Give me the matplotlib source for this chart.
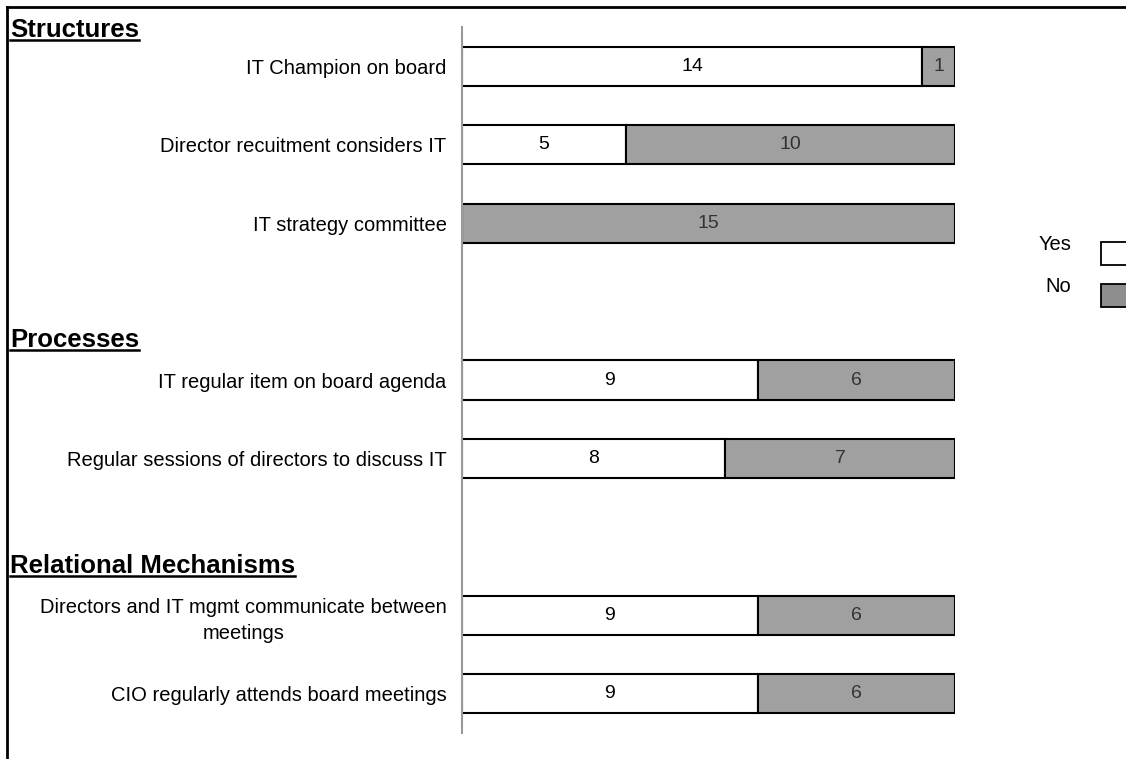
import matplotlib
matplotlib.use("Agg")
import matplotlib.pyplot as plt
from matplotlib.lines import Line2D
from matplotlib.patches import Rectangle

# ---- data ----
sections = ["Structures", "Processes", "Relational Mechanisms"]
categories = [
    "IT Champion on board",
    "Director recuitment considers IT",
    "IT strategy committee",
    "IT regular item on board agenda",
    "Regular sessions of directors to discuss IT",
    "Directors and IT mgmt communicate between\nmeetings",
    "CIO regularly attends board meetings",
]
category_section = [0, 0, 0, 1, 1, 2, 2]
yes_counts = [14, 5, 0, 9, 8, 9, 9]
no_counts = [1, 10, 15, 6, 7, 6, 6]
legend_labels = ["Yes", "No"]

# ---- style ----
W, H = 1126, 759
FONT = "Liberation Sans"
YES_COLOR = "white"
NO_COLOR = "#a0a0a0"
NO_LEG_COLOR = "#8e8e8e"

fig = plt.figure(figsize=(W / 100, H / 100), dpi=100)
fig.patch.set_facecolor("white")

def fx(px):
    return px / W

def fy(py):
    return 1 - py / H

ax = fig.add_axes([fx(462), fy(733), fx(955) - fx(462), fy(27) - fy(733)])

# row positions: one empty slot between sections
ypos = [i + s for i, s in enumerate(category_section)]
n_slots = max(ypos) + 1

ax.barh(ypos, yes_counts, height=0.5, color=YES_COLOR, edgecolor="black", linewidth=1.5)
ax.barh(ypos, no_counts, left=yes_counts, height=0.5, color=NO_COLOR, edgecolor="black", linewidth=1.5)

for y, a, b in zip(ypos, yes_counts, no_counts):
    if a > 0:
        ax.text(a / 2, y, str(a), ha="center", va="center", fontsize=14, family=FONT, color="black")
    if b > 0:
        ax.text(a + b / 2, y, str(b), ha="center", va="center", fontsize=14, family=FONT, color="#333333")

ax.set_xlim(0, 15)
ax.set_ylim(n_slots - 0.5, -0.5)
ax.set_yticks(ypos)
ax.set_yticklabels(categories, family=FONT, fontsize=14.5, multialignment="center", linespacing=1.45)
ax.tick_params(axis="y", length=0, pad=11)
ax.set_xticks([])
for side in ["top", "right", "bottom"]:
    ax.spines[side].set_visible(False)
ax.spines["left"].set_color("#9a9a9a")
ax.spines["left"].set_linewidth(1.5)
ax.set_facecolor("none")

# section headers (bold, underlined)
header_px_y = [30, 340, 566]
fig.canvas.draw()
renderer = fig.canvas.get_renderer()
for name, py in zip(sections, header_px_y):
    t = fig.text(fx(10), fy(py), name, ha="left", va="center", family=FONT,
                 fontsize=18.5, fontweight="bold", color="black")
    bb = t.get_window_extent(renderer)
    base = bb.y0 / H + 0.003
    fig.add_artist(Line2D([bb.x0 / W, bb.x1 / W], [base, base], color="black", lw=1.8,
                          transform=fig.transFigure))

# legend (manual, partially cut at right edge)
leg_items = [(legend_labels[0], YES_COLOR, 245, 242), (legend_labels[1], NO_LEG_COLOR, 287, 284)]
for lab, col, ty, box_top in leg_items:
    fig.text(fx(1071), fy(ty), lab, ha="right", va="center", family=FONT, fontsize=14.5)
    fig.add_artist(Rectangle((fx(1101), fy(box_top + 23)), fx(30), 23 / H, facecolor=col,
                             edgecolor="black", lw=1.3, transform=fig.transFigure))

# outer border (left and top)
fig.add_artist(Line2D([fx(7), fx(7)], [fy(7), 0], color="black", lw=2, transform=fig.transFigure))
fig.add_artist(Line2D([fx(7), 1], [fy(7), fy(7)], color="black", lw=2, transform=fig.transFigure))

fig.savefig("out.png", dpi=100)
